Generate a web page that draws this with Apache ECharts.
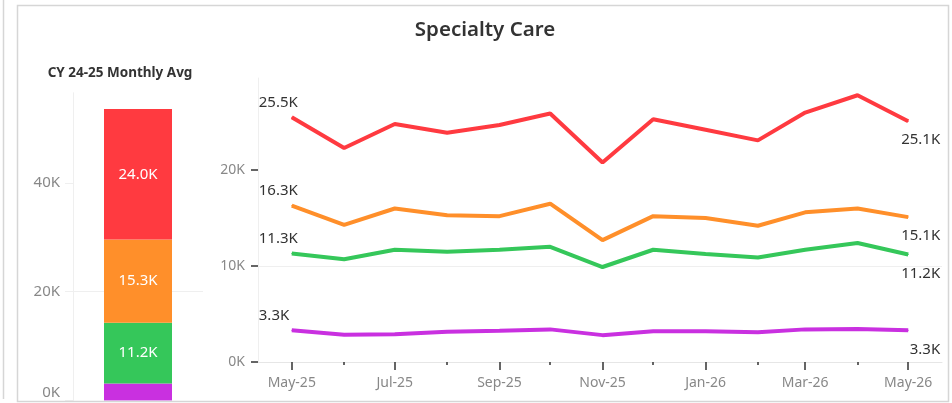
<!DOCTYPE html>
<html>
<head>
<meta charset="utf-8">
<script src="https://cdn.jsdelivr.net/npm/echarts@6/dist/echarts.min.js"></script>
<style>
html,body{margin:0;padding:0;background:#fff;}
#main{width:952px;height:403px;}
</style>
</head>
<body>
<div id="main"></div>
<script>
// monthly points (first of month)
var months = ['2025-05','2025-06','2025-07','2025-08','2025-09','2025-10','2025-11','2025-12','2026-01','2026-02','2026-03','2026-04','2026-05'];
var tickLabels = ['May-25','Jul-25','Sep-25','Nov-25','Jan-26','Mar-26','May-26'];
var redData = [25500,22300,24800,23900,24700,25900,20800,25300,24200,23100,26000,27800,25100];
var orangeData = [16300,14300,16000,15300,15200,16500,12700,15200,15000,14200,15600,16000,15100];
var greenData = [11300,10700,11700,11500,11700,12000,9900,11700,11250,10900,11700,12400,11200];
var purpleData = [3300,2850,2900,3150,3250,3400,2800,3200,3200,3100,3400,3450,3300];
// CY 24-25 monthly avg stack (bottom -> top)
var avgNames = ['purple','green','orange','red'];
var avgValues = [3100,11200,15300,24000];
var colors = {red:'#ff3a40',orange:'#ff8f2a',green:'#35c75a',purple:'#c930e0'};

var FONT = '"Noto Sans", "Open Sans", sans-serif';

// continuous date axis as day numbers
function toDay(m){
    var p = m.split('-');
    return Math.round(Date.UTC(+p[0], +p[1]-1, 1)/86400000);
}
var days = months.map(toDay);
var labelDays = days.filter(function(t,i){return i%2==0;});
var minorDays = days.filter(function(t,i){return i%2==1;});
var xMin = days[0]-20;
var xMax = days[days.length-1]+20;

function fmtK(v){
    return (v/1000).toFixed(1)+'K';
}

function lineSeries(name,values){
    var data = [];
    for(var i=0;i<values.length;i++){
        var item = {value:[days[i],values[i]]};
        if(i==0){
            item.label = {show:true,position:'top',align:'left',offset:[-33,-1],distance:6};
        }else if(i==values.length-1){
            item.label = {show:true,position:'bottom',align:'right',offset:[32,5],distance:6};
        }
        data.push(item);
    }
    return {
        name:name,
        type:'line',
        xAxisIndex:1,
        yAxisIndex:1,
        data:data,
        symbol:'circle',
        symbolSize:1,
        showSymbol:true,
        lineStyle:{width:4,color:colors[name]},
        itemStyle:{color:colors[name]},
        label:{
            show:false,
            color:'#333',
            fontFamily:FONT,
            fontSize:15,
            formatter:function(p){return fmtK(p.value[1]);}
        },
        animation:false
    };
}

var series = [];
for(var i=0;i<avgValues.length;i++){
    series.push({
        name:avgNames[i],
        type:'bar',
        stack:'avg',
        xAxisIndex:0,
        yAxisIndex:0,
        barWidth:68,
        data:[avgValues[i]],
        itemStyle:{color:colors[avgNames[i]]},
        label:{
            show:avgValues[i]>5000,
            position:'inside',
            color:'#fff',
            fontFamily:FONT,
            fontSize:15,
            formatter:function(p){return fmtK(p.value);}
        },
        animation:false
    });
}
series.push(lineSeries('red',redData));
series.push(lineSeries('orange',orangeData));
series.push(lineSeries('green',greenData));
series.push(lineSeries('purple',purpleData));

var myChart = echarts.init(document.getElementById('main'));
var option = {
    backgroundColor:'#fff',
    animation:false,
    title:[{
        text:'Specialty Care',
        left:480,
        top:15,
        textAlign:'center',
        textStyle:{fontFamily:FONT,fontSize:20.5,fontWeight:600,color:'#333'}
    },{
        text:'CY 24-25 Monthly Avg',
        left:115,
        top:61,
        textAlign:'center',
        textStyle:{fontFamily:FONT,fontSize:13.5,fontWeight:'bold',color:'#333'}
    }],
    grid:[
        {left:73,width:130,top:92.8,bottom:2.6},
        {left:258,right:10,top:78,bottom:41}
    ],
    xAxis:[{
        gridIndex:0,
        type:'category',
        data:['avg'],
        axisLine:{show:false},
        axisTick:{show:false},
        axisLabel:{show:false}
    },{
        gridIndex:1,
        type:'value',
        min:xMin,
        max:xMax,
        axisLine:{show:true,lineStyle:{color:'#e6e6e6',width:1}},
        axisTick:{show:true,customValues:labelDays,length:8,lineStyle:{color:'#333',width:1.5}},
        axisLabel:{
            customValues:labelDays,
            margin:14,
            color:'#888',
            fontFamily:FONT,
            fontSize:14,
            formatter:function(v){
                var idx = labelDays.indexOf(+v);
                return idx>=0 ? tickLabels[idx] : '';
            }
        },
        splitLine:{show:false}
    },{
        gridIndex:1,
        type:'value',
        position:'bottom',
        min:xMin,
        max:xMax,
        axisLine:{show:false},
        axisTick:{show:true,customValues:minorDays,length:3,lineStyle:{color:'#333',width:1.5}},
        axisLabel:{show:false},
        splitLine:{show:false}
    }],
    yAxis:[{
        gridIndex:0,
        type:'value',
        min:0,
        max:56600,
        interval:20000,
        axisLine:{show:true,lineStyle:{color:'#efefef'}},
        axisTick:{show:true,customValues:[0,20000,40000],length:8,lineStyle:{color:'#efefef'}},
        axisLabel:{
            customValues:[0,20000,40000],
            margin:13,
            color:'#888',
            fontFamily:FONT,
            fontSize:15,
            formatter:function(v){
                if(v==0) return '{z|0K}';
                return (v/1000)+'K';
            },
            rich:{z:{fontFamily:FONT,fontSize:15,color:'#888',padding:[0,0,16,0]}}
        },
        splitLine:{show:true,showMinLine:false,showMaxLine:false,lineStyle:{color:'#efefef'}}
    },{
        gridIndex:1,
        type:'value',
        min:0,
        max:29600,
        interval:10000,
        axisLine:{show:true,lineStyle:{color:'#efefef'}},
        axisTick:{show:true,customValues:[0,10000,20000],length:7,lineStyle:{color:'#333',width:1.5}},
        axisLabel:{
            customValues:[0,10000,20000],
            margin:13,
            color:'#888',
            fontFamily:FONT,
            fontSize:14,
            formatter:function(v){return (v/1000)+'K';}
        },
        splitLine:{show:true,showMinLine:false,showMaxLine:false,lineStyle:{color:'#efefef'}}
    }],
    graphic:[{
        type:'rect',
        z:100,
        shape:{x:17.5,y:5.5,width:931,height:396},
        style:{fill:null,stroke:'#d6d6d6',lineWidth:1.5}
    },{
        type:'line',
        z:100,
        shape:{x1:3.5,y1:0,x2:3.5,y2:399},
        style:{stroke:'#d6d6d6',lineWidth:1.5}
    }],
    series:series
};
myChart.setOption(option);
</script>
</body>
</html>
